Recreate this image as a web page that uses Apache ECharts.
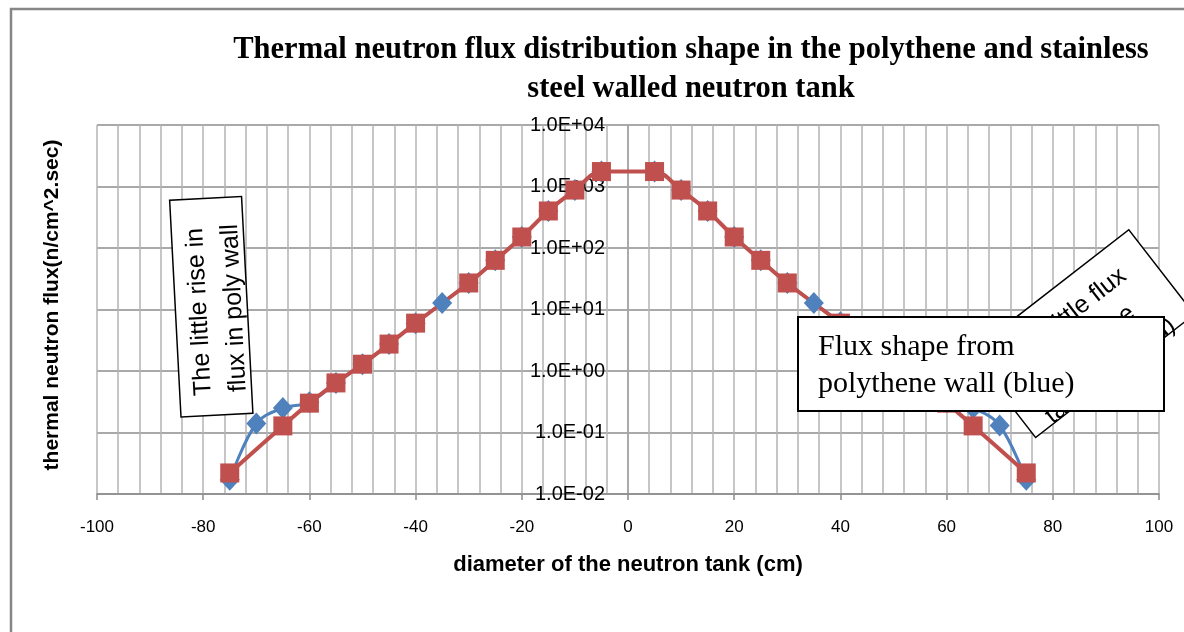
<!DOCTYPE html>
<html>
<head>
<meta charset="utf-8">
<script src="https://cdn.jsdelivr.net/npm/echarts@6/dist/echarts.min.js"></script>
<style>
html,body{margin:0;padding:0;background:#fff;}
#chart{width:1184px;height:632px;}
</style>
</head>
<body>
<div id="chart"></div>
<script>
// polythene walled tank (blue)
let polyDiameter = [-75,-70,-65,-60,-55,-50,-45,-40,-35,-30,-25,-20,-15,-10,-5,5,10,15,20,25,30,35,40,45,50,55,60,65,70,75];
let polyFlux = [0.017,0.14,0.25,0.31,0.64,1.29,2.74,6.0,12.8,27,63,151,400,875,1750,1750,875,400,151,63,27,12.8,6.2,2.74,1.29,0.64,0.31,0.25,0.13,0.017];
// stainless steel walled tank (red)
let steelDiameter = [-75,-65,-60,-55,-50,-45,-40,-30,-25,-20,-15,-10,-5,5,10,15,20,25,30,40,45,50,55,60,65,75];
let steelFlux = [0.022,0.128,0.30,0.64,1.29,2.74,6.0,27,63,151,400,875,1750,1750,875,400,151,63,27,6.0,2.74,1.29,0.64,0.30,0.128,0.022];

let titleText = 'Thermal neutron flux distribution shape in the polythene and stainless\nsteel walled neutron tank';
let xName = 'diameter of the neutron tank (cm)';
let yName = 'thermal neutron flux(n/cm^2.sec)';

function pairs(xs, ys) {
    let out = [];
    for (let i = 0; i < xs.length; i++) out.push([xs[i], ys[i]]);
    return out;
}

// 1.0E+04 style labels
function sciLabel(v) {
    let e = Math.round(Math.log10(v));
    let a = Math.abs(e);
    return '1.0E' + (e < 0 ? '-' : '+') + (a < 10 ? '0' : '') + a;
}

let gridLeft = 97, gridRight = 25;
// y axis sits on x = 0, in the middle of the plot
let yAxisOffset = -(1184 - gridLeft - gridRight) / 2;

function noteText(t, x, y, extra) {
    let s = { text: t, fontFamily: 'Liberation Sans', fontSize: 25, fill: '#000', verticalAlign: 'middle' };
    for (let k in extra) s[k] = extra[k];
    return { type: 'text', x: x, y: y, z: 101, style: s };
}

let myChart = echarts.init(document.getElementById('chart'));
let option = {
  animation: false,
  backgroundColor: '#fff',
  title: {
    text: titleText,
    left: 691,
    top: 31,
    padding: 0,
    textAlign: 'center',
    textStyle: {
      fontFamily: 'Liberation Serif',
      fontWeight: 'bold',
      fontSize: 30.5,
      lineHeight: 39,
      color: '#000'
    }
  },
  grid: {
    left: gridLeft,
    right: gridRight,
    top: 125,
    bottom: 138
  },
  xAxis: {
    type: 'value',
    min: -100,
    max: 100,
    interval: 20,
    name: xName,
    nameLocation: 'middle',
    nameGap: 60,
    nameTextStyle: {
      fontFamily: 'Liberation Sans',
      fontWeight: 'bold',
      fontSize: 22,
      color: '#000'
    },
    axisLine: { onZero: false, lineStyle: { color: '#8c8c8c', width: 1.5 } },
    axisTick: { show: true, length: 6, lineStyle: { color: '#8c8c8c', width: 1.5 } },
    axisLabel: {
      margin: 25,
      fontFamily: 'Liberation Sans',
      fontSize: 17,
      color: '#000'
    },
    splitLine: { show: true, lineStyle: { color: '#b4b4b4', width: 1.5 } },
    minorTick: { show: false, splitNumber: 5 },
    minorSplitLine: { show: true, lineStyle: { color: '#b4b4b4', width: 1.5 } }
  },
  yAxis: {
    type: 'log',
    logBase: 10,
    min: 0.01,
    max: 10000,
    position: 'left',
    offset: yAxisOffset,
    axisLine: { onZero: false, lineStyle: { color: '#a0a0a0', width: 1.5 } },
    axisTick: { show: false },
    axisLabel: {
      margin: 23,
      fontFamily: 'Liberation Sans',
      fontSize: 20,
      color: '#000',
      formatter: sciLabel
    },
    splitLine: { show: true, lineStyle: { color: '#8c8c8c', width: 1.5 } }
  },
  series: [
    {
      name: 'polythene wall',
      type: 'line',
      smooth: 0.35,
      data: pairs(polyDiameter, polyFlux),
      symbol: 'diamond',
      symbolSize: [20, 22],
      lineStyle: { color: '#4F81BD', width: 3 },
      itemStyle: { color: '#4F81BD' },
      emphasis: { disabled: true }
    },
    {
      name: 'stainless steel wall',
      type: 'line',
      smooth: 0.35,
      data: pairs(steelDiameter, steelFlux),
      symbol: 'rect',
      symbolSize: 19,
      lineStyle: { color: '#C0504D', width: 4 },
      itemStyle: { color: '#C0504D' },
      emphasis: { disabled: true }
    }
  ],
  graphic: [
    {
      type: 'rect',
      silent: true,
      z: 100,
      shape: { x: 11, y: 9, width: 1200, height: 650 },
      style: { fill: 'none', stroke: '#868686', lineWidth: 2.5 }
    },
    {
      type: 'text',
      x: 52,
      y: 305,
      rotation: Math.PI / 2,
      z: 100,
      style: {
        text: yName,
        fontFamily: 'Liberation Sans',
        fontWeight: 'bold',
        fontSize: 21,
        fill: '#000',
        align: 'center',
        verticalAlign: 'middle'
      }
    },
    // left note, nearly vertical
    {
      type: 'group',
      x: 181,
      y: 417,
      rotation: 93 * Math.PI / 180,
      children: [
        {
          type: 'rect',
          z: 100,
          shape: { x: 0, y: 0, width: 217, height: 72 },
          style: { fill: '#fff', stroke: '#000', lineWidth: 1.5 }
        },
        noteText('The little rise in', 20, 24),
        noteText('flux in poly wall', 22, 59)
      ]
    },
    // right note, tilted, mostly hidden behind the flux shape box
    {
      type: 'group',
      x: 970,
      y: 353,
      rotation: 0.66,
      children: [
        {
          type: 'rect',
          z: 100,
          shape: { x: 0, y: 0, width: 201, height: 107 },
          style: { fill: '#fff', stroke: '#000', lineWidth: 1.5 }
        },
        noteText('The little flux', 100, 31, { align: 'center' }),
        noteText('rise in the', 100, 66, { align: 'center' }),
        noteText('tank wall (red)', 100, 100, { align: 'center' })
      ]
    },
    {
      type: 'group',
      children: [
        {
          type: 'rect',
          z: 110,
          shape: { x: 798, y: 317, width: 366, height: 94 },
          style: { fill: '#fff', stroke: '#000', lineWidth: 2 }
        },
        {
          type: 'text',
          x: 818, y: 347, z: 111,
          style: { text: 'Flux shape from', fontFamily: 'Liberation Serif', fontSize: 30, fill: '#000', verticalAlign: 'middle' }
        },
        {
          type: 'text',
          x: 818, y: 384, z: 111,
          style: { text: 'polythene wall (blue)', fontFamily: 'Liberation Serif', fontSize: 30, fill: '#000', verticalAlign: 'middle' }
        }
      ]
    }
  ]
};
myChart.setOption(option);
</script>
</body>
</html>
